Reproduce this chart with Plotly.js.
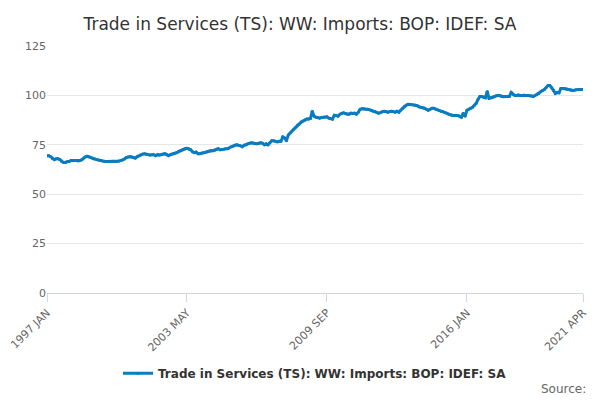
<!DOCTYPE html>
<html>
<head>
<meta charset="utf-8">
<script src="https://cdn.plot.ly/plotly-3.0.1.min.js"></script>
<style>body{margin:0}#graph{width:600px;height:400px}</style>
</head>
<body>
<div id="graph"></div>
<script>
"use strict";
// Monthly values, one row per year (1997 .. 2021 Apr)
const v1997 = [69.5, 69.5, 69, 68, 67.5, 68, 68, 67.5, 66.5, 66, 66, 66.5];
const v1998 = [66.5, 67, 67, 67, 67, 66.8, 67, 67.5, 68.5, 69, 69.2, 68.8];
const v1999 = [68.5, 68, 67.8, 67.5, 67.3, 67, 66.8, 66.7, 66.5, 66.5, 66.5, 66.5];
const v2000 = [66.5, 66.5, 66.6, 66.8, 67, 67.3, 67.8, 68.5, 68.8, 69, 68.8, 68.5];
const v2001 = [68.3, 69, 69.5, 70, 70.3, 70.5, 70.2, 70, 69.8, 70, 70, 69.5];
const v2002 = [70, 69.8, 70, 70.3, 70.5, 70, 69.5, 70, 70.3, 70.5, 70.8, 71.3];
const v2003 = [71.8, 72.3, 72.8, 73, 73.2, 73, 72.5, 71.5, 71, 71.3, 70.5, 70.5];
const v2004 = [70.8, 71, 71.2, 71.5, 71.8, 72, 72, 72.3, 72.8, 73, 72.5, 72.5];
const v2005 = [72.8, 73, 73, 73.5, 74, 74.3, 74.8, 75, 74.8, 74.5, 74, 74.8];
const v2006 = [75, 75.5, 75.8, 76, 75.8, 75.5, 75.5, 75.8, 76, 75.8, 75, 75.5];
const v2007 = [75, 76, 77, 77, 76.8, 76.5, 76.8, 76.8, 79, 78.5, 77, 80];
const v2008 = [81, 82, 83, 84, 85, 85.5, 86.5, 87, 87.5, 88, 88, 88.3];
const v2009 = [92, 89.5, 89, 88.8, 88.5, 88.8, 89, 89, 89.2, 88.5, 88.3, 88];
const v2010 = [90, 89.8, 89.5, 90.5, 91, 91.2, 90.8, 90.5, 90.5, 91, 90.8, 91];
const v2011 = [90.5, 91.5, 93, 93.2, 93.2, 93, 93, 92.8, 92.5, 92, 91.8, 91.5];
const v2012 = [91, 91.3, 91.8, 92, 91.8, 91.5, 91.8, 92, 91.8, 91.5, 92, 91.5];
const v2013 = [92.5, 93.5, 94.5, 95, 95.5, 95.5, 95.3, 95.2, 95, 94.8, 94.2, 94];
const v2014 = [93.8, 93.5, 93, 92.5, 93, 93.5, 93.5, 93, 92.8, 92.3, 92, 91.8];
const v2015 = [91.3, 91, 90.5, 90.2, 90, 90, 90, 89.8, 89.5, 89, 91, 89.5];
const v2016 = [92.5, 93, 93.5, 94, 95, 96, 98, 99.5, 99.5, 99, 98.8, 102];
const v2017 = [98.5, 98.8, 99, 99.5, 99.8, 100, 99.8, 99.5, 99.3, 99.5, 99.5, 99.5];
const v2018 = [101.5, 100.5, 100, 100, 100.2, 100, 100, 100.2, 100, 100, 99.8, 99.8];
const v2019 = [99.5, 100, 100.5, 101, 101.8, 102.5, 103, 104, 105, 105, 104, 102.5];
const v2020 = [101, 101.5, 101.3, 103.5, 103.5, 103.5, 103.2, 103, 102.8, 102.5, 102.5, 102.8];
const v2021 = [103, 103, 103, 103];

const monthNames = ['JAN','FEB','MAR','APR','MAY','JUN','JUL','AUG','SEP','OCT','NOV','DEC'];
const yearRows = [v1997, v1998, v1999, v2000, v2001, v2002, v2003, v2004, v2005, v2006, v2007, v2008,
    v2009, v2010, v2011, v2012, v2013, v2014, v2015, v2016, v2017, v2018, v2019, v2020, v2021];
const tickLabels = ['1997 JAN', '2003 MAY', '2009 SEP', '2016 JAN', '2021 APR'];

const periods = [];
const values = [];
yearRows.forEach((row, yi) => {
    row.forEach((val, mi) => {
        periods.push((1997 + yi) + ' ' + monthNames[mi]);
        values.push(val);
    });
});

const traces = [{
    x: periods, y: values, type: 'scatter', mode: 'lines+markers',
    name: 'Trade in Services (TS): WW: Imports: BOP: IDEF: SA',
    line: { color: '#0a7cc1', width: 3 }, marker: { color: '#0a7cc1', size: 3 }
}];

const layout = {
    width: 600, height: 400,
    font: { family: 'DejaVu Sans, sans-serif', color: '#666', size: 11 },
    title: { text: 'Trade in Services (TS): WW: Imports: BOP: IDEF: SA', x: 0.5, y: 0.955, font: { size: 17, color: '#333' } },
    paper_bgcolor: '#fff', plot_bgcolor: '#fff',
    margin: { l: 47, r: 17, t: 46, b: 107 },
    xaxis: {
        type: 'category', tickmode: 'array', tickvals: tickLabels, ticktext: tickLabels,
        tickangle: -45, showgrid: false, showline: true, linecolor: '#ccd6eb', automargin: false,
        ticks: 'outside', tickcolor: '#ccd6eb', ticklen: 8, range: [0, periods.length - 1]
    },
    yaxis: {
        range: [0, 125], tick0: 0, dtick: 25, gridcolor: '#e6e6e6', zeroline: false, automargin: false,
        ticks: '', ticklen: 12, tickcolor: 'rgba(0,0,0,0)'
    },
    showlegend: true,
    legend: { orientation: 'h', x: 0.5, xanchor: 'center', yref: 'container', y: 0.067, yanchor: 'middle', font: { size: 12, color: '#333', weight: 'bold' } },
    annotations: [{ text: 'Source:', xref: 'paper', yref: 'paper', x: 1.01, y: -0.39, xanchor: 'right', yanchor: 'middle', showarrow: false, font: { size: 12, color: '#666' } }]
};

Plotly.newPlot('graph', traces, layout, { displayModeBar: false }).catch(err => {
    console.error('Plot error:', err);
});
</script>
</body>
</html>
